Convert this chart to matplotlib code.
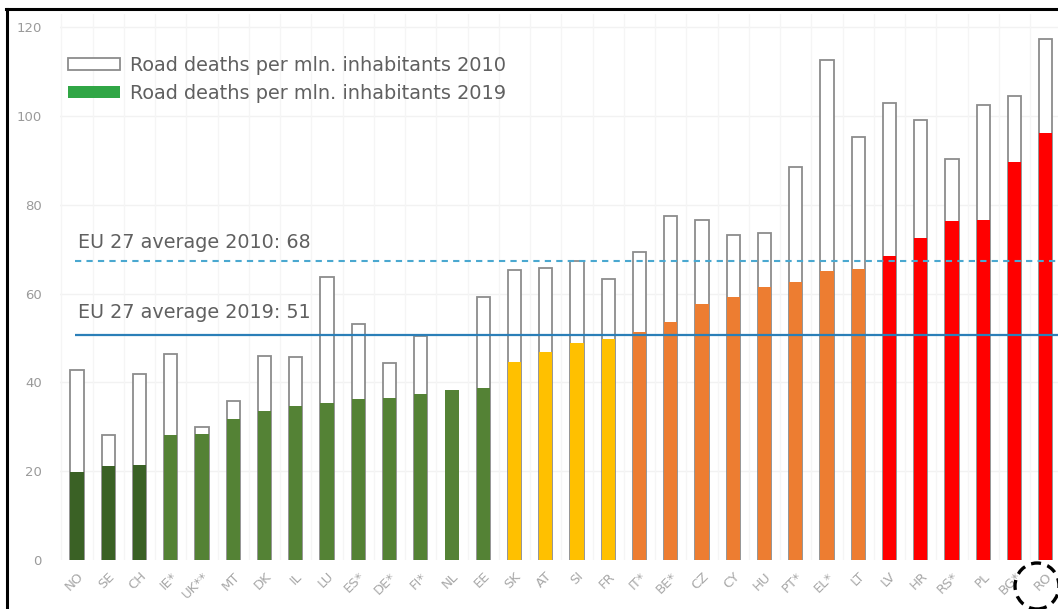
import matplotlib
matplotlib.use("Agg")
import matplotlib.pyplot as plt
from matplotlib.patches import Patch, Ellipse
from matplotlib.lines import Line2D
import numpy as np

# ---------------- data ----------------
countries = ["NO", "SE", "CH", "IE*", "UK**", "MT", "DK", "IL", "LU", "ES*", "DE*",
             "FI*", "NL", "EE", "SK", "AT", "SI", "FR", "IT*", "BE*", "CZ", "CY",
             "HU", "PT*", "EL*", "LT", "LV", "HR", "RS*", "PL", "BG*", "RO"]
deaths_2010 = [42.9, 28.2, 41.8, 46.3, 30.0, 35.9, 45.9, 45.7, 63.7, 53.2, 44.4,
               50.5, np.nan, 59.2, 65.3, 65.8, 67.3, 63.3, 69.4, 77.5, 76.6, 73.2,
               73.7, 88.5, 112.6, 95.3, 102.9, 99.1, 90.3, 102.5, 104.6, 117.3]
deaths_2019 = [19.9, 21.2, 21.4, 28.2, 28.4, 31.8, 33.6, 34.7, 35.3, 36.3, 36.4,
               37.5, 38.3, 38.7, 44.5, 46.9, 48.8, 49.7, 51.3, 53.7, 57.7, 59.2,
               61.4, 62.7, 65.1, 65.5, 68.5, 72.5, 76.4, 76.6, 89.6, 96.1]
group = ["dark", "dark", "dark", "green", "green", "green", "green", "green", "green",
         "green", "green", "green", "green", "green", "yellow", "yellow", "yellow",
         "yellow", "orange", "orange", "orange", "orange", "orange", "orange", "orange",
         "orange", "red", "red", "red", "red", "red", "red"]
group_colors = {"dark": "#3a6125", "green": "#548235", "yellow": "#ffc000",
                "orange": "#ed7d31", "red": "#ff0000"}
eu_avg_2010_line = 67.4
eu_avg_2019_line = 50.7
eu_label_2010 = "EU 27 average 2010: 68"
eu_label_2019 = "EU 27 average 2019: 51"
yticks = [0, 20, 40, 60, 80, 100, 120]

# ---------------- figure ----------------
plt.rcParams["font.family"] = ["DejaVu Sans"]
W, H = 1058, 609
fig = plt.figure(figsize=(W / 100, H / 100), dpi=100)
fig.patch.set_facecolor("white")

left_px, right_px = 60, 1062
bottom_px, top_px = 560, 14
ax = fig.add_axes([left_px / W, (H - bottom_px) / H,
                   (right_px - left_px) / W, (bottom_px - top_px) / H])
spacing = 31.25
x = np.arange(len(countries))
ax.set_xlim(-(77 - left_px) / spacing, -(77 - left_px) / spacing + (right_px - left_px) / spacing)
ax.set_ylim(0, (bottom_px - top_px) / 4.44)

# faint grid
for yv in yticks[1:]:
    ax.axhline(yv, color="#f2f2f2", lw=1.0, zorder=0)
for xv in np.arange(-0.5, len(countries), 1.0):
    ax.axvline(xv, color="#f5f5f5", lw=1.0, zorder=0)

bw = 0.42
ax.bar(x, deaths_2010, width=bw, facecolor="white", edgecolor="#8c8c8c",
       linewidth=1.3, zorder=2)
ax.bar(x, deaths_2019, width=bw, color=[group_colors[g] for g in group],
       linewidth=0, zorder=3)

xr = ax.get_xlim()[1]
ax.hlines(eu_avg_2010_line, -0.05, xr, colors="#4aa8d0", linestyles=(0, (3, 2.5)),
          lw=1.5, zorder=4)
ax.hlines(eu_avg_2019_line, -0.05, xr, colors="#2b7fb8", lw=1.6, zorder=4)
ax.text(0.03, eu_avg_2010_line + 2.9, eu_label_2010, fontsize=13.8, color="#606060",
        va="baseline", ha="left", zorder=5)
ax.text(0.03, eu_avg_2019_line + 3.8, eu_label_2019, fontsize=13.8, color="#606060",
        va="baseline", ha="left", zorder=5)

for s in ax.spines.values():
    s.set_visible(False)
ax.set_yticks(yticks)
ax.set_yticklabels([str(v) for v in yticks], fontsize=9.5, color="#9a9a9a")
ax.tick_params(axis="y", length=0, pad=13)
ax.set_xticks(x)
ax.set_xticklabels(countries, fontsize=9.5, color="#a8a8a8", rotation=45,
                   ha="right", rotation_mode="anchor")
ax.tick_params(axis="x", length=0, pad=7)

handles = [Patch(facecolor="white", edgecolor="#8c8c8c", linewidth=1.3),
           Patch(facecolor="#30a645", edgecolor="none")]
labels = ["Road deaths per mln. inhabitants 2010", "Road deaths per mln. inhabitants 2019"]
leg = ax.legend(handles, labels, loc="upper left",
                bbox_to_anchor=(68 / W, 1 - 56 / H), bbox_transform=fig.transFigure,
                frameon=False, fontsize=13.9, handlelength=2.7, handleheight=0.6,
                handletextpad=0.5, labelspacing=0.45, borderpad=0, borderaxespad=0)
for t in leg.get_texts():
    t.set_color("#606060")

# frame lines of the picture (left and top)
fig.add_artist(Line2D([7 / W, 7 / W], [0, 1 - 9 / H], color="black", lw=2.2,
                      transform=fig.transFigure))
fig.add_artist(Line2D([6 / W, 1], [1 - 9 / H, 1 - 9 / H], color="black", lw=2.2,
                      transform=fig.transFigure))

# dashed highlight circle around RO
fig.add_artist(Ellipse((1037 / W, 1 - 586 / H), 44 / W, 46 / H, fill=False,
                       edgecolor="black", lw=2.4, linestyle=(0, (3, 2)),
                       transform=fig.transFigure, zorder=10))

fig.savefig("out.png", dpi=100, facecolor="white")
